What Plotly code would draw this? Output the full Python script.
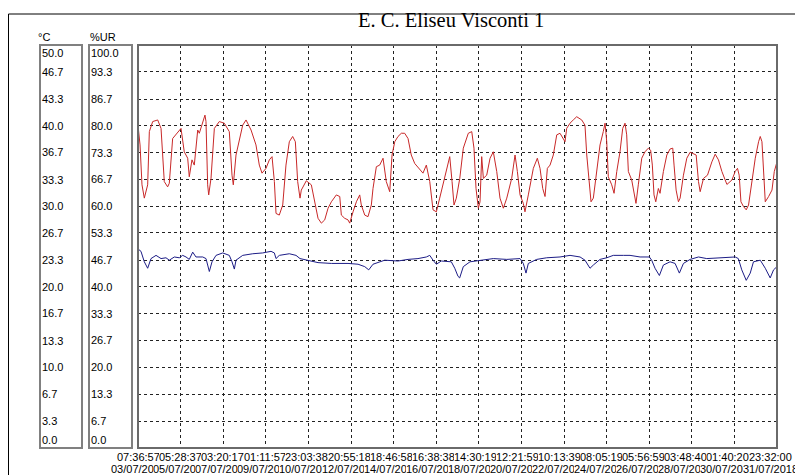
import pandas as pd
import plotly.graph_objects as go

# ---------------- data ----------------
title_text = "E. C. Eliseu Visconti 1"

tick_dates = ["03/07/2018", "05/07/2018", "07/07/2018", "09/07/2018", "10/07/2018",
              "12/07/2018", "14/07/2018", "16/07/2018", "18/07/2018", "20/07/2018",
              "22/07/2018", "24/07/2018", "26/07/2018", "28/07/2018", "30/07/2018",
              "31/07/2018"]
tick_times = ["07:36:57", "05:28:37", "03:20:17", "01:11:57", "23:03:38",
              "20:55:18", "18:46:58", "16:38:38", "14:30:19", "12:21:59",
              "10:13:39", "08:05:19", "05:56:59", "03:48:40", "01:40:20",
              "23:32:00"]

temp_tick_text = ["0.0", "3.3", "6.7", "10.0", "13.3", "16.7", "20.0", "23.3",
                  "26.7", "30.0", "33.3", "36.7", "40.0", "43.3", "46.7", "50.0"]
ur_tick_text = ["0.0", "6.7", "13.3", "20.0", "26.7", "33.3", "40.0", "46.7",
                "53.3", "60.0", "66.7", "73.3", "80.0", "86.7", "93.3", "100.0"]

# relative humidity (%UR) — hours elapsed since first tick
ur_hours = [0, 2.2, 4.3, 6.8, 10.4, 12.2, 15.8, 21.2, 24.8, 28.3, 31.9, 33.7, 37.3, 40.9, 46.3,
            49.8, 53.5, 55.2, 58.1, 60.6, 64.3, 66.0, 69.7, 72.1, 73.2, 75.0, 76.1, 78.6, 82.2,
            87.5, 92.9, 98.3, 101.2, 102.6, 105.5, 109.1, 112.7, 116.3, 121.7, 127.0, 130.6,
            133.5, 137.8, 141.4, 144.3, 146.8, 148.6, 152.1, 155.8, 159.3, 162.9, 166.5, 169.4,
            171.9, 174.4,
            175.8, 181.2, 186.6, 190.2, 193.8, 197.4, 201.0, 204.6, 208.2, 213.5, 217.2, 218.9,
            222.5, 226.1, 227.9, 231.5, 235.1, 238.7, 240.4, 244.1, 247.6, 251.2, 253.0, 256.6,
            260.2, 263.8, 267.3, 271.0, 273.5, 276.4, 279.9, 283.5, 287.1, 290.7, 294.2, 297.9,
            303.3, 306.8, 310.4, 314.1, 317.6, 321.2, 324.8, 330.2, 335.6, 338.1, 340.2, 342.7,
            346.4,
            350.2, 355.6, 359.3, 361.7, 363.9, 366.4, 368.2, 370.0, 371.8, 375.4, 379.0, 382.5,
            386.2, 389.7, 393.3, 397.0, 402.3, 405.9, 408.4, 411.3, 414.8, 416.6, 420.2, 425.6,
            429.9, 432.8, 435.7, 438.2, 440.7, 443.6, 447.1, 450.8, 454.3, 457.9, 459.7, 461.5,
            465.1, 468.6, 472.3, 477.7, 481.2, 483.1, 485.9, 487.7, 490.2, 493.8, 497.4, 500.9,
            502.8, 504.6, 506.3, 510.0, 512.5, 515.4, 518.9,
            521.8, 524.3, 526.1, 527.9, 531.5, 534.0, 536.1, 538.6, 542.3, 545.8, 549.4, 551.9,
            553.7, 555.5, 557.4, 560.2, 562.0, 565.6, 569.3, 572.8, 575.7, 577.1, 579.3, 581.8,
            583.6, 587.2, 590.8, 594.4, 598.0, 600.9, 603.4, 605.2, 608.8, 613.1, 617.8, 621.4,
            624.9, 628.6, 634.0, 639.4, 642.9, 645.4, 647.2, 649.1, 651.9, 654.8, 657.3, 660.9,
            664.5, 668.1, 669.9, 671.7, 673.5, 675.3, 678.9, 682.5, 685.0, 687.9]
ur_values = [80.1, 75.2, 65.3, 62.0, 65.3, 78.5, 81.0, 81.4, 79.3, 66.1, 64.8, 65.7, 76.8, 77.7, 79.3,
             73.5, 71.9, 67.3, 71.5, 70.2, 78.9, 78.1, 81.0, 82.6, 81.0, 65.3, 62.8, 66.9, 79.3,
             81.0, 80.6, 78.5, 67.7, 65.3, 72.7, 76.8, 80.1, 81.4, 78.9, 75.2, 70.2,
             68.2, 69.4, 71.5, 72.3, 66.1, 58.2, 57.8, 60.3, 70.2, 76.0, 77.3, 76.0,
             66.1, 62.0,
             64.0, 66.3, 65.3, 61.1, 57.0, 55.8, 56.6, 59.5, 61.1, 62.8, 62.4, 57.8,
             57.0, 56.6, 55.8, 58.6, 61.1, 62.8, 60.3, 57.8, 57.4, 60.3, 64.4, 69.8,
             70.2, 71.9, 66.1, 63.6, 72.7, 76.0, 77.3, 78.1, 78.1, 76.8, 72.7, 70.6,
             69.0, 68.2, 70.2, 66.1, 59.1, 58.6, 62.0, 66.9, 72.3, 66.1, 60.3, 62.0,
             66.9,
             74.4, 78.1, 78.5, 74.4, 64.4, 59.5, 61.1, 72.3, 66.9, 67.7, 71.9, 73.5,
             68.6, 62.0, 59.5, 62.0, 66.9, 72.7, 68.6, 62.8, 60.7, 58.6, 62.8, 69.4,
             71.9, 69.4, 64.4, 62.4, 69.4, 70.2, 72.7, 77.7, 78.1, 76.8, 76.0, 79.3,
             80.6, 81.4, 82.2, 81.4, 80.1, 72.7, 64.4, 61.1, 62.0, 69.4, 75.2, 78.5,
             80.6, 76.0, 67.3, 65.3, 63.2, 68.6, 73.5,
             79.3, 80.6, 77.7, 68.6, 66.5, 63.6, 60.7, 65.3, 71.9, 73.5, 74.4, 73.9,
             70.2, 62.8, 61.1, 64.4, 63.2, 68.6, 72.7, 74.2, 74.4, 70.2, 64.0, 61.1,
             62.0, 67.7, 71.9, 73.4, 73.1, 72.7, 66.1, 63.6, 66.9, 67.7, 71.0, 72.9,
             71.5, 68.6, 65.4, 66.5, 68.6, 69.4, 67.7, 61.1, 59.9, 59.1, 60.3, 66.1,
             71.9, 76.0, 77.3, 76.0, 68.6, 61.1, 62.4, 64.0, 68.6, 71.0]

# temperature (°C) — hours elapsed since first tick
temp_hours = [0, 3.2, 6.8, 10.4, 14.0, 19.4, 24.8, 30.1, 33.7, 39.1, 44.5, 48.1, 51.7, 55.2, 58.9,
              62.4, 69.7, 73.2, 75.0, 76.8, 79.7, 84.0, 91.2, 98.3, 101.2, 103.7, 105.5, 112.7,
              123.5, 134.2, 143.2, 146.8, 148.6, 152.1, 162.9, 170.1, 174.4,
              183.0, 193.8, 208.2, 226.1, 236.9, 244.1, 248.4, 253.0, 265.6, 279.9, 290.7, 301.4,
              310.4, 314.1, 317.6, 321.2, 326.5, 337.3, 341.0, 344.5, 346.3, 350.2,
              357.4, 368.2, 382.5, 397.0, 411.3, 414.8, 417.7, 420.2, 429.2, 440.0, 454.3, 465.1,
              475.9, 481.2, 486.6, 490.2, 497.4, 504.6, 511.7, 522.5,
              529.7, 540.5, 550.5, 553.0, 556.6, 561.3, 565.6, 572.8, 578.2, 582.8, 587.2, 594.4,
              603.4, 612.3, 626.6, 642.9, 646.3, 650.0, 654.8, 659.1, 662.6, 669.9, 675.3, 680.6,
              684.2, 687.9]
temp_values = [24.7, 24.4, 23.1, 22.3, 23.5, 23.9, 23.5, 23.6, 23.3, 23.7, 23.6, 23.9, 23.7, 23.4, 24.3,
               23.7, 23.7, 23.5, 22.7, 21.9, 23.1, 23.9, 24.2, 23.9, 23.1, 22.2, 23.3, 23.9,
               24.1, 24.2, 24.4, 24.2, 23.5, 23.9, 24.1, 23.9, 23.5,
               23.3, 23.0, 22.9, 22.9, 22.8, 22.5, 22.1, 22.8, 23.3, 23.2, 23.4, 23.5,
               23.7, 23.9, 23.3, 22.8, 23.2, 23.1, 22.3, 21.3, 21.1, 22.5,
               23.1, 23.3, 23.5, 23.4, 23.5, 22.9, 21.7, 22.9, 23.4, 23.6, 23.7, 23.9,
               23.7, 23.3, 22.3, 22.7, 23.4, 23.6, 23.9, 23.9,
               23.9, 23.7, 23.7, 23.3, 22.3, 21.4, 22.7, 23.1, 22.9, 21.7, 22.9, 23.4,
               23.7, 23.5, 23.6, 23.7, 23.5, 22.1, 20.8, 21.7, 23.1, 23.3, 22.3, 21.1,
               22.1, 22.5]

# ---------------- layout geometry (screen pixels; page body has an 8px margin) ----------------
OFF = 8
SW, SH = 803, 475
W, H = SW - OFF, SH - OFF
L, R, T, B = 138, 777, 45, 448   # plot area in screen pixels


def px(x):
    return (x - L) / (R - L)


def py(y):
    return (B - y) / (B - T)


tick_vals = pd.to_datetime([d + " " + t for d, t in zip(tick_dates, tick_times)],
                           format="%d/%m/%Y %H:%M:%S")
t0 = tick_vals[0]
t1 = tick_vals[-1]
ur_x = t0 + pd.to_timedelta(ur_hours, unit="h")
temp_x = t0 + pd.to_timedelta(temp_hours, unit="h")

# label axis: labels are spread slightly narrower than the grid
lab_first, lab_last = 138.6, 770.0
span = (t1 - t0) * (R - L) / (lab_last - lab_first)
r0 = t0 - span * ((lab_first - L) / (R - L))
r1 = r0 + span

fig = go.Figure()
fig.add_trace(go.Scatter(x=ur_x, y=ur_values, mode="lines", yaxis="y2", xaxis="x",
                         line=dict(color="#c82828", width=1), name="%UR", showlegend=False))
fig.add_trace(go.Scatter(x=temp_x, y=temp_values, mode="lines", yaxis="y", xaxis="x",
                         line=dict(color="#1c1c86", width=1), name="°C", showlegend=False))
# trace on the label axis so that it is rendered
fig.add_trace(go.Scatter(x=[t0], y=[None], xaxis="x2", yaxis="y", mode="lines",
                         showlegend=False, hoverinfo="skip"))

font_ui = "Liberation Sans"
grid_style = dict(showgrid=True, gridcolor="#222222", gridwidth=1, griddash="3px,3px")

fig.update_layout(
    width=W, height=H, autosize=False,
    margin=dict(l=L - OFF, r=SW - R, t=T - OFF, b=SH - B, pad=0),
    paper_bgcolor="white", plot_bgcolor="white",
    showlegend=False,
    xaxis=dict(type="date", range=[t0, t1], tickvals=tick_vals, showticklabels=False,
               ticks="", zeroline=False, showline=False, automargin=False, **grid_style),
    xaxis2=dict(type="date", overlaying="x", anchor="y", side="bottom", range=[r0, r1],
                showticklabels=False, ticks="", showgrid=False, zeroline=False,
                showline=False, automargin=False),
    yaxis=dict(range=[0, 50], tickvals=[float(v) for v in temp_tick_text],
               showticklabels=False, ticks="", zeroline=False, showline=False,
               automargin=False, **grid_style),
    yaxis2=dict(range=[0, 100], overlaying="y", side="right", showgrid=False,
                showticklabels=False, ticks="", zeroline=False, showline=False,
                automargin=False),
)

shapes = []
# outer frame (top and left lines)
shapes.append(dict(type="line", xref="paper", yref="paper", x0=px(8.5), x1=px(SW + 20),
                   y0=py(14), y1=py(14), line=dict(color="black", width=1)))
shapes.append(dict(type="line", xref="paper", yref="paper", x0=px(8.5), x1=px(8.5),
                   y0=py(14), y1=py(SH + 20), line=dict(color="black", width=1)))
# scale boxes
for xa, xb in [(40, 82), (89, 132)]:
    shapes.append(dict(type="rect", xref="paper", yref="paper", x0=px(xa), x1=px(xb),
                       y0=0, y1=1, line=dict(color="#808080", width=2), layer="above"))
# plot frame
shapes.append(dict(type="rect", xref="paper", yref="paper", x0=0, x1=1, y0=0, y1=1,
                   line=dict(color="#6a6a6a", width=2), layer="above"))

annotations = []
annotations.append(dict(text=title_text, xref="paper", yref="paper", x=px(451), y=py(20),
                        xanchor="center", yanchor="middle", showarrow=False,
                        font=dict(family="Liberation Serif", size=20.5, color="black")))
annotations.append(dict(text="°C", xref="paper", yref="paper", x=px(36), y=py(37),
                        xanchor="left", yanchor="middle", showarrow=False,
                        font=dict(family=font_ui, size=11, color="black")))
annotations.append(dict(text="%UR", xref="paper", yref="paper", x=px(88), y=py(37),
                        xanchor="left", yanchor="middle", showarrow=False,
                        font=dict(family=font_ui, size=11, color="black")))

for texts, yref, xpos in [(temp_tick_text, "y", 39.5), (ur_tick_text, "y2", 88.5)]:
    n = len(texts)
    for i, s in enumerate(texts):
        if i == n - 1:
            ya = "top"
        elif i == 0:
            ya = "bottom"
        else:
            ya = "middle"
        annotations.append(dict(text=s, xref="paper", yref=yref, x=px(xpos), y=float(s),
                                xanchor="left", yanchor=ya, showarrow=False,
                                font=dict(family=font_ui, size=11, color="black")))

# x-axis labels: each drawn on an opaque box so that later ones cover earlier ones
for tv, tt, dd in zip(tick_vals, tick_times, tick_dates):
    for txt, ypix in [(tt, 456.5), (dd, 469)]:
        annotations.append(dict(text=txt, xref="x2", yref="paper", x=tv, y=py(ypix),
                                xanchor="center", yanchor="middle", showarrow=False,
                                bgcolor="white", borderpad=0, borderwidth=0,
                                font=dict(family=font_ui, size=11, color="black")))

fig.update_layout(shapes=shapes, annotations=annotations)
fig.write_html("out.html")
